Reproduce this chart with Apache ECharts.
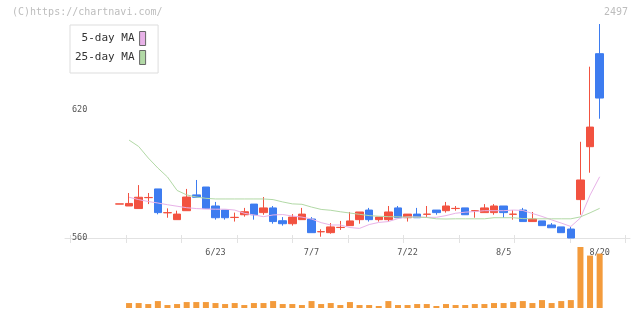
<!DOCTYPE html>
<html>
<head>
<meta charset="utf-8">
<script src="https://cdn.jsdelivr.net/npm/echarts@6/dist/echarts.min.js"></script>
<style>html,body{margin:0;padding:0;background:#fff}#c{width:640px;height:311px}</style>
</head>
<body>
<div id="c"></div>
<script>
// Trading dates (2025), one per candle
const dates = ['6/9','6/10','6/11','6/12','6/13','6/16','6/17','6/18','6/19','6/20',
  '6/23','6/24','6/25','6/26','6/27','6/30','7/1','7/2','7/3','7/4',
  '7/7','7/8','7/9','7/10','7/11','7/14','7/15','7/16','7/17','7/18',
  '7/22','7/23','7/24','7/25','7/28','7/29','7/30','7/31','8/1','8/4',
  '8/5','8/6','8/7','8/8','8/12','8/13','8/14','8/15','8/18','8/19','8/20'];
const opens  = [575.9,575.0,573.8,578.9,583.0,571.8,568.6,572.8,580.2,583.9,
  575.0,573.1,569.6,570.9,575.9,571.9,574.1,568.1,566.7,568.6,
  568.9,562.9,562.5,564.9,565.8,568.6,573.1,568.6,568.6,574.1,
  569.5,571.2,571.1,573.1,572.8,573.8,574.1,572.7,571.9,571.9,
  575.0,571.1,573.1,567.7,568.0,566.1,565.2,564.2,578.0,602.8,646.4];
const closes = [576.0,576.2,579.1,579.0,571.9,571.9,571.2,579.2,579.1,573.8,
  569.5,569.5,569.7,572.3,570.9,574.1,567.7,566.7,569.8,571.2,
  562.5,563.0,565.2,565.0,568.0,572.2,568.6,569.8,572.2,569.5,
  571.2,569.5,571.2,571.9,575.0,573.9,570.9,572.8,574.1,575.0,
  571.9,571.2,567.7,568.9,565.8,564.8,562.5,560.0,587.2,612.0,625.6];
const lows   = [575.9,575.0,573.8,575.9,571.1,569.5,568.6,572.8,579.1,573.8,
  568.6,568.6,567.7,570.0,568.6,570.9,566.7,565.8,565.8,568.6,
  562.5,560.6,562.0,563.8,565.8,566.7,567.7,567.7,567.7,569.5,
  567.7,569.5,569.5,570.9,571.9,572.8,570.9,569.5,571.9,570.9,
  569.5,568.6,567.7,567.7,565.8,564.8,562.5,560.0,570.9,590.6,615.9];
const highs  = [576.0,581.1,584.8,581.1,583.0,573.9,572.8,583.0,587.2,583.9,
  576.9,573.1,571.9,574.1,575.9,579.2,575.0,569.8,571.2,574.1,
  569.8,564.1,567.0,568.0,572.2,572.2,574.1,569.8,575.0,575.0,
  571.2,574.1,575.0,573.1,576.9,575.0,574.1,573.1,575.9,575.9,
  575.0,573.1,574.1,572.2,568.0,567.0,565.2,565.2,605.1,640.3,660.3];
const volumes = [0,1500,1500,1200,2100,900,1200,1800,1800,1800,
  1500,1200,1500,900,1500,1500,2100,1200,1200,900,
  2100,1200,1500,900,1800,900,900,600,2100,900,
  900,1200,1200,600,1200,900,900,1200,1200,1500,
  1500,1800,2100,1500,2400,1500,2100,2400,18500,15900,16500];
const ma5 = [null,579.1,578.0,577.1,576.4,575.6,574.9,574.2,573.8,573.6,
  573.5,573.5,573.1,571.6,570.8,570.0,570.8,571.0,570.3,569.8,
  568.9,567.2,566.1,566.1,564.9,564.5,566.3,567.3,567.7,569.1,
  569.9,569.8,569.7,569.7,570.5,571.6,572.1,572.4,572.8,572.8,
  572.8,573.1,572.9,571.5,570.1,568.5,567.0,565.4,569.4,580.1,588.7];
const ma25 = [null,605.9,602.9,597.5,592.8,588.6,582.3,580.2,579.2,578.6,
  578.3,578.3,578.3,578.3,578.3,578.3,578.0,576.9,576.0,575.8,
  574.5,573.4,573.0,572.3,571.7,571.1,570.5,570.2,570.0,569.9,
  569.8,569.8,569.6,569.0,568.9,569.0,569.0,569.0,569.0,569.5,
  569.5,569.5,569.1,569.0,569.0,569.0,569.0,569.0,569.9,571.8,573.9];
const xLabelIdx = [10, 20, 30, 40, 50];
const yTickValues = [560, 620];

const UP = '#f25240', DOWN = '#3d7cf0', VOL = '#f39b3c', PINK = '#e8b2e8', GREEN = '#b2d9a6';
const MONO = 'DejaVu Sans Mono';

// axis frame in candle-index units
const xMin = -5.67, xMax = 53.16;
const tickStart = -5.075, tickStep = 5.774;
const frameTicks = [];
for (let k = 0; k <= 10; k++) frameTicks.push(tickStart + k * tickStep);

const candleData = dates.map((d, i) => [i, opens[i], closes[i], lows[i], highs[i]]);
const volData = [];
volumes.forEach((v, i) => { if (v > 0) volData.push([i, v]); });
const ma5Data = [], ma25Data = [];
ma5.forEach((v, i) => { if (v != null) ma5Data.push([i, v]); });
ma25.forEach((v, i) => { if (v != null) ma25Data.push([i, v]); });

const chart = echarts.init(document.getElementById('c'));
chart.setOption({
  animation: false,
  backgroundColor: '#fff',
  title: [
    {text: '(C)https://chartnavi.com/', left: 12, top: 7, padding: 0,
     textStyle: {fontSize: 10, fontWeight: 'normal', color: '#bdbdbd', fontFamily: MONO}},
    {text: '2497', right: 12, top: 7, padding: 0,
     textStyle: {fontSize: 10, fontWeight: 'normal', color: '#bdbdbd', fontFamily: MONO}}
  ],
  legend: {
    orient: 'vertical', left: 70, top: 25, align: 'right',
    padding: [6, 12, 8, 5], itemGap: 4, itemWidth: 6, itemHeight: 14,
    borderColor: '#dddddd', borderWidth: 1, backgroundColor: '#fff',
    selectedMode: false, icon: 'rect',
    textStyle: {fontSize: 11, color: '#333', fontFamily: MONO},
    data: [
      {name: '5-day MA', itemStyle: {color: PINK, borderColor: '#666', borderWidth: 1}},
      {name: '25-day MA', itemStyle: {color: GREEN, borderColor: '#666', borderWidth: 1}}
    ]
  },
  grid: [
    {left: 65, right: 10, top: 3.33, height: 234.67},
    {left: 65, right: 10, top: 247, height: 61}
  ],
  xAxis: [
    {type: 'value', gridIndex: 0, min: xMin, max: xMax,
     axisLine: {show: true, lineStyle: {color: '#e2e2e2', width: 1}},
     axisTick: {show: true, length: 5, customValues: frameTicks, lineStyle: {color: '#e2e2e2'}},
     axisLabel: {customValues: xLabelIdx, formatter: v => dates[Math.round(v)],
       fontSize: 8.5, color: '#555', fontFamily: MONO, margin: 10},
     splitLine: {show: false}},
    {type: 'value', gridIndex: 0, min: xMin, max: xMax, position: 'bottom',
     axisLine: {show: false},
     axisTick: {show: true, inside: true, length: 3, customValues: frameTicks, lineStyle: {color: '#e2e2e2'}},
     axisLabel: {show: false}, splitLine: {show: false}},
    {type: 'value', gridIndex: 1, min: xMin, max: xMax, show: false, splitLine: {show: false}}
  ],
  yAxis: [
    {type: 'value', gridIndex: 0, min: 560, max: 670,
     axisLine: {show: false}, axisTick: {show: false}, splitLine: {show: false},
     axisLabel: {inside: true, margin: 7, customValues: yTickValues,
       fontSize: 8.5, color: '#555', fontFamily: MONO}},
    {type: 'value', gridIndex: 1, min: 0, max: 18500, show: false, splitLine: {show: false}}
  ],
  series: [
    {type: 'candlestick', name: 'price', xAxisIndex: 0, yAxisIndex: 0,
     barWidth: 8, data: candleData,
     itemStyle: {color: UP, color0: DOWN, borderColor: UP, borderColor0: DOWN, borderWidth: 1}},
    {type: 'line', name: '5-day MA', xAxisIndex: 0, yAxisIndex: 0, data: ma5Data,
     showSymbol: false, symbol: 'none', lineStyle: {color: PINK, width: 1}, itemStyle: {color: PINK}},
    {type: 'line', name: '25-day MA', xAxisIndex: 0, yAxisIndex: 0, data: ma25Data,
     showSymbol: false, symbol: 'none', lineStyle: {color: GREEN, width: 1}, itemStyle: {color: GREEN}},
    {type: 'bar', name: 'volume', xAxisIndex: 2, yAxisIndex: 1, data: volData,
     barWidth: 6, itemStyle: {color: VOL}}
  ]
});
</script>
</body>
</html>
